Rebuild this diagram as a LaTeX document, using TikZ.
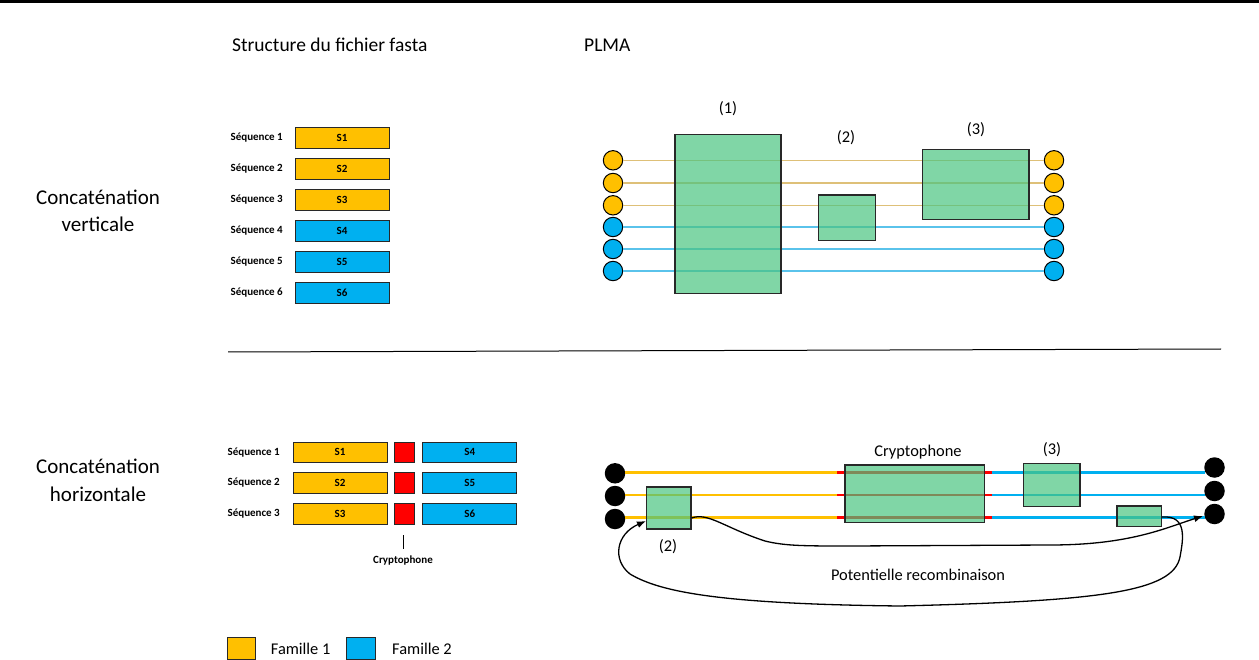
\documentclass[tikz,border=0pt]{standalone}
\usepackage{fontspec}
\setmainfont{Carlito}
\usetikzlibrary{arrows.meta}
\definecolor{gold}{RGB}{255,192,0}
\definecolor{sky}{RGB}{0,176,240}
\definecolor{boxgreen}{RGB}{74,196,128}
\definecolor{tanline}{RGB}{222,192,120}
\definecolor{paleblue}{RGB}{90,195,235}
\definecolor{edge}{RGB}{40,40,40}
\begin{document}
\begin{tikzpicture}[x=1pt,y=-1pt,
  seqlab/.style={anchor=east,inner sep=0pt,font=\bfseries\fontsize{11}{13}\selectfont},
  seqbox/.style={draw=edge,line width=0.9pt,minimum width=94pt,minimum height=21pt,inner sep=0pt,font=\bfseries\fontsize{11}{13}\selectfont},
  yb/.style={seqbox,fill=gold},
  bb/.style={seqbox,fill=sky},
  rb/.style={draw=edge,line width=0.9pt,fill=red,minimum width=20.7pt,minimum height=20.3pt,inner sep=0pt},
  blk/.style={draw=edge,line width=1.2pt,fill=boxgreen,fill opacity=0.7,inner sep=0pt},
  ycirc/.style={circle,draw=black,line width=1pt,fill=gold,minimum size=19.4pt,inner sep=0pt},
  bcirc/.style={circle,draw=black,line width=1pt,fill=sky,minimum size=19.4pt,inner sep=0pt},
  kcirc/.style={circle,fill=black,minimum size=20.5pt,inner sep=0pt},
  lab/.style={inner sep=0pt,font=\fontsize{16.4}{19}\selectfont},
  bigtxt/.style={inner sep=0pt,align=center,font=\fontsize{21}{27.5}\selectfont},
  curve/.style={line width=1.3pt,black},
  topl/.style={line width=1.5pt}
]
\useasboundingbox (0,0) rectangle (1259,660);
% top rule
\coordinate (tl) at (0,1.5);
\coordinate (tr) at (1259,1.5);
\draw[line width=3pt] (tl) -- (tr);
% separator
\coordinate (sl) at (228,352);
\coordinate (sr) at (1221,349);
\draw[line width=1pt] (sl) -- (sr);

% headings
\node[lab,anchor=west,font=\fontsize{19.5}{22}\selectfont] (h1) at (232,45) {Structure du fichier fasta};
\node[lab,anchor=west,font=\fontsize{19.5}{22}\selectfont] (h2) at (584,45) {PLMA};
\node[bigtxt] (cv) at (98,211) {Concaténation\\verticale};
\node[bigtxt] (ch) at (98,480.5) {Concaténation\\horizontale};

% vertical fasta
\foreach \i/\y/\st in {1/138/yb,2/169/yb,3/200/yb,4/230.5/bb,5/261.5/bb,6/292.5/bb}{
  \node[seqlab] (vl\i) at (283,\y) {Séquence \i};
  \node[\st] (vs\i) at (342,\y) {S\i};
}

% horizontal fasta
\foreach \i/\y/\j in {1/452.2/4,2/483/5,3/514/6}{
  \node[seqlab] (hl\i) at (280,\y) {Séquence \i};
  \node[yb,minimum height=20.3pt] (hy\i) at (340,\y) {S\i};
  \node[rb] (hr\i) at (404.3,\y) {};
  \node[bb,minimum height=20.3pt] (hb\i) at (469.7,\y) {S\j};
}
\coordinate (ct) at (403.7,535);
\coordinate (cb) at (403.7,549);
\draw[line width=1pt] (ct) -- (cb);
\node[seqlab,anchor=center] (cryl) at (403,561) {Cryptophone};

% top PLMA
\foreach \i/\y/\st/\c in {1/160.3/ycirc/tanline,2/183/ycirc/tanline,3/205.3/ycirc/tanline,4/227/bcirc/paleblue,5/249/bcirc/paleblue,6/271/bcirc/paleblue}{
  \node[\st] (tL\i) at (613,\y) {};
  \node[\st] (tR\i) at (1054,\y) {};
  \draw[topl,\c] (tL\i) -- (tR\i);
}
\node[blk,minimum width=106pt,minimum height=159.4pt] (b1) at (728,214) {};
\node[blk,minimum width=57pt,minimum height=45.7pt] (b2) at (847.2,217.9) {};
\node[blk,minimum width=106.3pt,minimum height=70pt] (b3) at (975.9,184.3) {};
\node[lab] (l1) at (728,109) {(1)};
\node[lab] (l2) at (846,138) {(2)};
\node[lab] (l3) at (976,130) {(3)};

% bottom PLMA
\foreach \i/\y/\yr in {1/473.3/467.5,2/496/491,3/519/514}{
  \node[kcirc] (bL\i) at (615,\y) {};
  \node[kcirc] (bR\i) at (1214.5,\yr) {};
}
\foreach \i/\y in {1/472.7,2/494.9,3/517.5}{
  \coordinate (ra\i) at (837,\y);
  \coordinate (rb\i) at (992,\y);
  \coordinate (re\i) at (1205,\y);
  \draw[line width=2.8pt,gold] (bL\i.east |- ra\i) -- (ra\i);
  \draw[line width=2.8pt,red] (ra\i) -- (rb\i);
  \draw[line width=2.8pt,sky] (rb\i) -- (re\i);
}
\node[blk,minimum width=44.3pt,minimum height=42pt] (c2) at (668.9,508) {};
\node[blk,minimum width=139.3pt,minimum height=57.7pt] (cc) at (914.7,493.9) {};
\node[blk,minimum width=56.7pt,minimum height=43pt] (c3) at (1051.7,484.8) {};
\node[blk,minimum width=44.3pt,minimum height=20.3pt] (c4) at (1139.2,516.2) {};
\node[lab] (lc) at (918,452) {Cryptophone};
\node[lab] (lc3) at (1052,450) {(3)};
\node[lab] (lc2) at (668,547) {(2)};
\node[lab] (lpr) at (918,575) {Potentielle recombinaison};

% recombination curves
\coordinate (up0) at (c2.east |- 0,518);
\coordinate (tip1) at (1203,516);
\draw[curve,-{Latex[length=9pt,width=7pt]}] (up0) .. controls (708,512) and (725,528) .. (765,541)
  .. controls (785,546) and (805,546) .. (850,546) -- (1050,545)
  .. controls (1130,545) and (1165,528) .. (tip1);
\coordinate (lo0) at (c4.east |- 0,517);
\coordinate (tip2) at (646,521);
\draw[curve,-{Latex[length=9pt,width=7pt]}] (lo0) .. controls (1188,515) and (1183,540) .. (1180,557)
  .. controls (1173,592) and (1100,601) .. (900,606)
  .. controls (720,604) and (660,592) .. (630,574)
  .. controls (612,560) and (616,534) .. (tip2);

% legend
\node[draw=edge,line width=1pt,fill=gold,minimum width=28.4pt,minimum height=22pt,inner sep=0pt] (lg1) at (241.5,648) {};
\node[lab,anchor=west] (lt1) at (270.7,648.5) {Famille 1};
\node[draw=edge,line width=1pt,fill=sky,minimum width=29pt,minimum height=22pt,inner sep=0pt] (lg2) at (361.2,648) {};
\node[lab,anchor=west] (lt2) at (392,648.5) {Famille 2};
\end{tikzpicture}
\end{document}
